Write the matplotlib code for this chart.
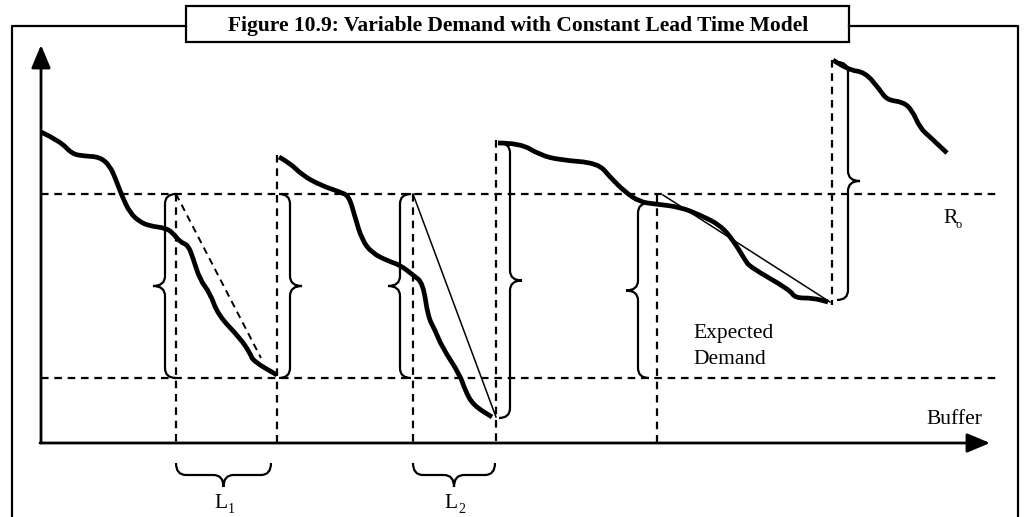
import matplotlib.pyplot as plt
import numpy as np
from matplotlib.path import Path
from matplotlib.patches import PathPatch, Rectangle

# diagram drawn in picture units (x right, y down)
W, H = 1032, 517

title = "Figure 10.9: Variable Demand with Constant Lead Time Model"

# stock level curves (thick), one list per order cycle
cycle1_x = [41, 60, 72, 84, 100, 110, 116, 122, 130, 140, 150, 165, 172, 180, 188, 193, 200, 210, 218, 240, 250, 253, 277]
cycle1_y = [132, 141, 154, 156, 157, 166, 180, 196, 213, 222, 226, 228, 232, 242, 245, 258, 280, 293, 315, 338, 353, 361, 375]
cycle2_x = [279, 290, 302, 320, 340, 349, 355, 362, 372, 388, 400, 413, 423, 428, 435, 442, 460, 465, 473, 492]
cycle2_y = [157, 163, 175, 185, 192, 196, 217, 240, 253, 261, 265, 275, 283, 317, 330, 347, 375, 390, 405, 417]
cycle3_x = [498, 520, 540, 560, 598, 610, 625, 640, 655, 680, 700, 720, 733, 745, 750, 790, 795, 813, 828]
cycle3_y = [143, 143, 155, 160, 163, 177, 192, 202, 204, 207, 215, 225, 240, 260, 267, 290, 298, 298, 302]
cycle4_x = [833, 848, 865, 880, 887, 903, 912, 920, 930, 947]
cycle4_y = [60, 70, 72, 90, 100, 102, 110, 128, 137, 153]

# expected demand lines: (x0, y0, x1, y1, style)
demand_lines = [(176, 194, 261, 358, "--"), (413, 194, 496, 417, "-"), (663, 195, 830, 302, "-")]

# levels
reorder_y = 194
buffer_y = 378
axis_y = 443
axis_x = 41

# vertical dashed guides: (x, top, bottom)
guides = [(176, 194, 443), (277, 155, 443), (413, 194, 443), (496, 140, 443), (657, 195, 443), (832, 60, 305)]

# vertical braces: (spine x, top, bottom, direction of tip)
vbraces = [(165, 194, 378, -1), (290, 194, 378, 1), (400, 194, 378, -1),
           (510, 143, 418, 1), (638, 203, 378, -1), (848, 62, 300, 1)]
# lead time braces under the axis: (left, right)
hbraces = [(176, 271), (413, 495)]
lead_labels = ["1", "2"]


def brace_path(a0, a1, s, d, tip=12, end=11, r=10):
    # curly brace along one direction; returns (along, across) pairs and codes
    m = (a0 + a1) / 2.0
    e = s - d * end
    t = s + d * tip
    verts = [(a0, e), (a0, s), (a0 + r, s),
             (m - r, s), (m, s), (m, t),
             (m, s), (m + r, s),
             (a1 - r, s), (a1, s), (a1, e)]
    codes = [Path.MOVETO, Path.CURVE3, Path.CURVE3,
             Path.LINETO, Path.CURVE3, Path.CURVE3,
             Path.CURVE3, Path.CURVE3,
             Path.LINETO, Path.CURVE3, Path.CURVE3]
    return verts, codes


def smooth_path(xs, ys):
    # quadratic pieces: read points act as control points, corners get rounded
    p = np.column_stack([xs, ys]).astype(float)
    verts = [p[0]]
    codes = [Path.MOVETO]
    for i in range(1, len(p) - 1):
        mid = (p[i] + p[i + 1]) / 2.0
        verts += [p[i], mid]
        codes += [Path.CURVE3, Path.CURVE3]
    verts.append(p[-1])
    codes.append(Path.LINETO)
    return Path(verts, codes)


fig = plt.figure(figsize=(W / 100, H / 100), dpi=100)
ax = fig.add_axes([0, 0, 1, 1])
ax.set_xlim(0, W)
ax.set_ylim(H, 0)
ax.axis("off")

serif = "Liberation Serif"

# outer frame and title box
ax.plot([186, 12, 12], [26, 26, H + 5], color="black", lw=1.6)
ax.plot([849, 1018, 1018], [26, 26, H + 5], color="black", lw=1.6)
ax.add_patch(Rectangle((186, 6), 663, 36, facecolor="white", edgecolor="black", lw=1.6))
ax.text(518, 31, title, ha="center", va="baseline", fontsize=15.5,
        fontweight="bold", family=serif)

# axes with arrows
ax.annotate("", xy=(axis_x, 45), xytext=(axis_x, axis_y),
            arrowprops=dict(arrowstyle="-|>,head_length=1.0,head_width=0.42",
                            mutation_scale=14, lw=2, color="black", shrinkA=0, shrinkB=0))
ax.annotate("", xy=(990, axis_y), xytext=(axis_x - 1, axis_y),
            arrowprops=dict(arrowstyle="-|>,head_length=1.0,head_width=0.42",
                            mutation_scale=14, lw=2, color="black", shrinkA=0, shrinkB=0))

dash = (0, (3.4, 2.6))
ax.plot([axis_x, 997], [reorder_y, reorder_y], color="black", lw=1.6, ls=dash)
ax.plot([axis_x, 997], [buffer_y, buffer_y], color="black", lw=1.6, ls=dash)
for gx, gt, gb in guides:
    ax.plot([gx, gx], [gt, gb], color="black", lw=1.6, ls=dash)

for x0, y0, x1, y1, st in demand_lines:
    if st == "--":
        ax.plot([x0, x1], [y0, y1], color="black", lw=1.4, ls=(0, (3.6, 2.6)))
    else:
        ax.plot([x0, x1], [y0, y1], color="black", lw=1.1)

for cx, cy in [(cycle1_x, cycle1_y), (cycle2_x, cycle2_y),
               (cycle3_x, cycle3_y), (cycle4_x, cycle4_y)]:
    ax.add_patch(PathPatch(smooth_path(cx, cy), facecolor="none", edgecolor="black",
                           lw=3.4, capstyle="butt", joinstyle="round"))

for sx, top, bot, d in vbraces:
    verts, codes = brace_path(top, bot, sx, d)
    verts = [(b, a) for a, b in verts]
    ax.add_patch(PathPatch(Path(verts, codes), facecolor="none", edgecolor="black", lw=1.6))

for (left, right), lab in zip(hbraces, lead_labels):
    verts, codes = brace_path(left, right, 475, 1, tip=12, end=12, r=10)
    ax.add_patch(PathPatch(Path(verts, codes), facecolor="none", edgecolor="black", lw=1.6))
    cx = (left + right) / 2.0
    ax.text(cx + 4, 508, "L", ha="right", va="baseline", fontsize=15.5, family=serif)
    ax.text(cx + 4, 513, lab, ha="left", va="baseline", fontsize=10, family=serif)

# labels
ax.text(943, 223, "R", ha="left", va="baseline", fontsize=15.5, family=serif)
ax.text(956, 228, "o", ha="left", va="baseline", fontsize=9, family=serif)
ax.text(693, 338, "Expected", ha="left", va="baseline", fontsize=15.5, family=serif)
ax.text(693, 364, "Demand", ha="left", va="baseline", fontsize=15.5, family=serif)
ax.text(926, 424, "Buffer", ha="left", va="baseline", fontsize=15.5, family=serif)

fig.savefig("out.png", dpi=100)
